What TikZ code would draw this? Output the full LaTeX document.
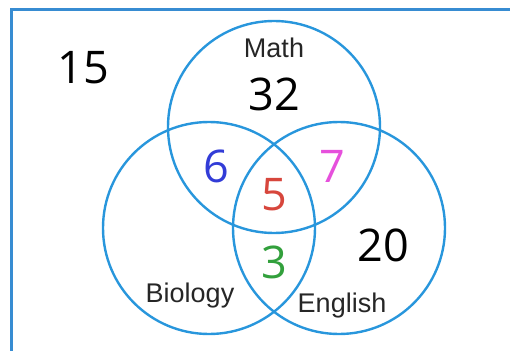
\documentclass[tikz,border=0pt]{standalone}
\usepackage{fontspec}
\usepackage{xcolor}
\setmainfont{Liberation Sans}
\newfontfamily\handfont{Open Sans}

\definecolor{setblue}{RGB}{40,150,220}
\definecolor{frameblue}{RGB}{55,140,210}
\definecolor{numblue}{RGB}{50,60,215}
\definecolor{nummagenta}{RGB}{230,80,220}
\definecolor{numred}{RGB}{215,70,60}
\definecolor{numgreen}{RGB}{50,160,60}

\begin{document}
\begin{tikzpicture}[x=1pt,y=-1pt]

% ---------- common style ----------
\tikzstyle{set}=[circle,draw=setblue,line width=2.4pt,minimum size=212pt,inner sep=0pt]
\tikzstyle{setname}=[font=\fontsize{27}{30}\selectfont,text=black!85,inner sep=0pt]
\tikzstyle{count}=[font=\handfont\fontsize{45}{48}\selectfont,inner sep=0pt]

\useasboundingbox (0,0) rectangle (510,350);
\clip (0,0) rectangle (510,350);

% frame (runs off the right and bottom)
\draw[frameblue,line width=3pt] (11,10) rectangle (530,370);

% ================== the three sets ==================
\node[set] (math) at (274,127) {};
\node[set] (bio)  at (209,228) {};
\node[set] (eng)  at (339,228) {};

% set names
\node[setname] (mathname) at (274,48)  {Math};
\node[setname] (bioname)  at (190,296) {Biology};
\node[setname] (engname)  at (342,306) {English};

% ================== counts ==================
\node[count] (outside)  at (83,68)   {15};
\node[count] (onlymath) at (274,94)  {32};
\node[count] (onlyeng)  at (383,245) {20};
\node[count,numblue]    (mathbio) at (216,166) {6};
\node[count,nummagenta] (matheng) at (332,166) {7};
\node[count,numred]     (all)     at (274,195) {5};
\node[count,numgreen]   (bioeng)  at (274,262) {3};

\end{tikzpicture}
\end{document}
